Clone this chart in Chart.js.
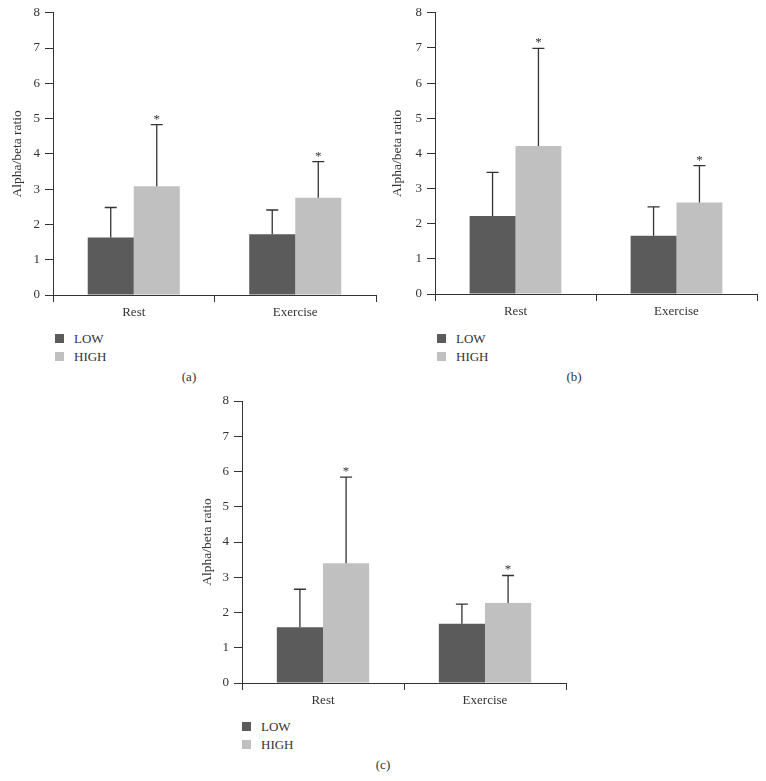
<!DOCTYPE html>
<html>
<head>
<meta charset="utf-8">
<script src="https://cdn.jsdelivr.net/npm/chart.js@4.4.0/dist/chart.umd.min.js"></script>
<style>
  body { margin: 0; background: #fff; }
  #page { position: relative; width: 766px; height: 781px; font-family: "Liberation Serif", "DejaVu Serif", serif; color: #333; }
  .panel { position: absolute; }
  .legend { position: absolute; font-size: 13px; line-height: 18px; }
  .legend div { position: relative; padding-left: 19px; }
  .legend span { position: absolute; left: 0; top: 4px; width: 9px; height: 9px; }
  .caption { position: absolute; font-size: 13px; transform: translateX(-50%); }
</style>
</head>
<body>
<div id="page">
  <div class="panel" style="left:0;top:0;width:380px;height:330px"><canvas id="chartA"></canvas></div>
  <div class="panel" style="left:380px;top:0;width:386px;height:330px"><canvas id="chartB"></canvas></div>
  <div class="panel" style="left:190px;top:385px;width:380px;height:330px"><canvas id="chartC"></canvas></div>

  <div class="legend" style="left:55px;top:330px">
    <div><span style="background:#5b5b5b"></span>LOW</div>
    <div><span style="background:#c0c0c0"></span>HIGH</div>
  </div>
  <div class="legend" style="left:437px;top:330px">
    <div><span style="background:#5b5b5b"></span>LOW</div>
    <div><span style="background:#c0c0c0"></span>HIGH</div>
  </div>
  <div class="legend" style="left:242px;top:718px">
    <div><span style="background:#5b5b5b"></span>LOW</div>
    <div><span style="background:#c0c0c0"></span>HIGH</div>
  </div>

  <div class="caption" style="left:189px;top:369px">(a)</div>
  <div class="caption" style="left:574px;top:369px">(b)</div>
  <div class="caption" style="left:383px;top:757px">(c)</div>
</div>

<script>
// categories and axis
const categories = ['Rest', 'Exercise'];
const yTicks = [0, 1, 2, 3, 4, 5, 6, 7, 8];
const yTitle = 'Alpha/beta ratio';

// panel (a)
const lowA = [1.63, 1.72];
const lowErrA = [0.85, 0.69];
const highA = [3.08, 2.76];
const highErrA = [1.75, 1.02];

// panel (b)
const lowB = [2.22, 1.66];
const lowErrB = [1.24, 0.82];
const highB = [4.21, 2.60];
const highErrB = [2.78, 1.05];

// panel (c)
const lowC = [1.58, 1.68];
const lowErrC = [1.08, 0.56];
const highC = [3.40, 2.27];
const highErrC = [2.44, 0.78];

// significance marks on HIGH bars
const starsHigh = [true, true];

const INK = '#333333';
const FONT = '"Liberation Serif", serif';

// Error bars (upper only) and asterisks
const errorBarPlugin = {
    id: 'errorBars',
    afterDatasetsDraw(chart) {
        const ctx = chart.ctx;
        const yScale = chart.scales.y;
        ctx.save();
        ctx.strokeStyle = INK;
        ctx.fillStyle = INK;
        ctx.lineWidth = 1.3;
        chart.data.datasets.forEach((ds, di) => {
            const meta = chart.getDatasetMeta(di);
            meta.data.forEach((bar, i) => {
                const top = yScale.getPixelForValue(ds.data[i] + ds.errors[i]);
                ctx.beginPath();
                ctx.moveTo(bar.x, bar.y);
                ctx.lineTo(bar.x, top);
                ctx.moveTo(bar.x - 6, top);
                ctx.lineTo(bar.x + 6, top);
                ctx.stroke();
                if (ds.stars && ds.stars[i]) {
                    ctx.font = '13px ' + FONT;
                    ctx.textAlign = 'center';
                    ctx.textBaseline = 'alphabetic';
                    ctx.fillText('*', bar.x, top - 2);
                }
            });
        });
        ctx.restore();
    }
};

function makePanel(id, low, lowErr, high, highErr, box) {
    const ctx = document.getElementById(id).getContext('2d');
    return new Chart(ctx, {
        type: 'bar',
        data: {
            labels: categories,
            datasets: [{
                label: 'LOW',
                data: low,
                errors: lowErr,
                backgroundColor: '#5b5b5b',
                borderWidth: 0
            }, {
                label: 'HIGH',
                data: high,
                errors: highErr,
                stars: starsHigh,
                backgroundColor: '#c0c0c0',
                borderWidth: 0
            }]
        },
        options: {
            responsive: true,
            maintainAspectRatio: false,
            animation: false,
            layout: {
                padding: { top: box.top, right: box.right, left: 0, bottom: 0 }
            },
            datasets: {
                bar: { categoryPercentage: 0.57, barPercentage: 1.0 }
            },
            plugins: {
                legend: { display: false },
                tooltip: { enabled: false }
            },
            scales: {
                x: {
                    afterFit: (scale) => { scale.height = box.xHeight; },
                    border: { display: true, color: INK, width: 1 },
                    grid: {
                        drawOnChartArea: false,
                        drawTicks: true,
                        tickLength: 7,
                        offset: true,
                        color: INK
                    },
                    ticks: {
                        color: INK,
                        padding: 3,
                        font: { family: FONT, size: 13 }
                    }
                },
                y: {
                    min: 0,
                    max: 8,
                    afterFit: (scale) => { scale.width = box.yWidth; },
                    afterBuildTicks: (scale) => { scale.ticks = yTicks.map(v => ({ value: v })); },
                    border: { display: true, color: INK, width: 1 },
                    grid: {
                        drawOnChartArea: false,
                        drawTicks: true,
                        tickLength: 8,
                        color: INK
                    },
                    ticks: {
                        color: INK,
                        padding: 5,
                        font: { family: FONT, size: 13 }
                    },
                    title: {
                        display: true,
                        text: yTitle,
                        color: INK,
                        padding: { top: 9, bottom: 0 },
                        font: { family: FONT, size: 13.5 }
                    }
                }
            }
        },
        plugins: [errorBarPlugin]
    });
}

makePanel('chartA', lowA, lowErrA, highA, highErrA, { top: 12, right: 4, yWidth: 53, xHeight: 35 });
makePanel('chartB', lowB, lowErrB, highB, highErrB, { top: 12, right: 9, yWidth: 55, xHeight: 36 });
makePanel('chartC', lowC, lowErrC, highC, highErrC, { top: 16, right: 4, yWidth: 52, xHeight: 32 });
</script>
</body>
</html>
